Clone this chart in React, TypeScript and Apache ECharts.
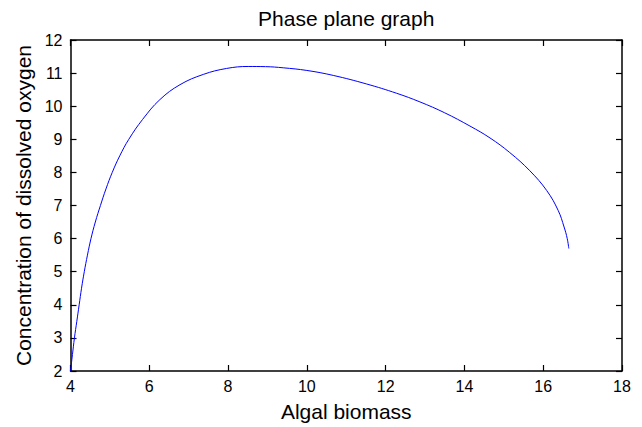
import React, { useEffect, useRef } from "react";
import * as echarts from "echarts";

// Phase-plane trajectory: algal biomass (x) against dissolved oxygen (y)
const biomass = [
  4.0, 4.05, 4.1, 4.16, 4.22, 4.28, 4.35, 4.43, 4.52, 4.63, 4.76, 4.9, 5.06,
  5.25, 5.48, 5.83, 6.27, 6.78, 7.37, 7.96, 8.51, 8.95, 9.4, 10.0, 10.67, 11.52,
  12.28, 12.87, 13.5, 14.14, 14.65, 15.15, 15.66, 16.09, 16.38, 16.53, 16.61,
  16.65,
];
const oxygen = [
  2.0, 2.5, 3.0, 3.5, 4.0, 4.5, 5.0, 5.5, 6.0, 6.5, 7.0, 7.5, 8.0, 8.5, 9.0,
  9.6, 10.2, 10.65, 10.96, 11.14, 11.2, 11.195, 11.16, 11.08, 10.93, 10.67,
  10.39, 10.13, 9.8, 9.4, 9.04, 8.6, 8.05, 7.45, 6.85, 6.35, 6.0, 5.7,
];

const xRange = { min: 4, max: 18, interval: 2 };
const yRange = { min: 2, max: 12, interval: 1 };

const titleText = "Phase plane graph";
const xName = "Algal biomass";
const yName = "Concentration of dissolved oxygen";

const FONT = "'Liberation Sans', Arial, Helvetica, sans-serif";
const INK = "#000";

const GRID = { left: 70.5, right: 20, top: 40, bottom: 53.5 };
const WIDTH = 642;
const HEIGHT = 427;

export default function App() {
  const ref = useRef<HTMLDivElement>(null);

  useEffect(() => {
    if (!ref.current) return;
    const chart = echarts.init(ref.current, undefined, { renderer: "svg" });

    const axisLine = { show: true, lineStyle: { color: INK, width: 1.5 } };
    const tick = { show: true, inside: true, length: 6, lineStyle: { color: INK, width: 1.2 } };
    const label = { color: INK, fontSize: 16, fontFamily: FONT };
    const plotCenterX = GRID.left + (WIDTH - GRID.left - GRID.right) / 2;

    chart.setOption({
      animation: false,
      backgroundColor: "#fff",
      // title centred over the plotting area rather than the whole canvas
      graphic: [
        {
          type: "text",
          x: plotCenterX,
          y: 8,
          style: {
            text: titleText,
            fill: INK,
            font: `21px ${FONT}`,
            align: "center",
            verticalAlign: "top",
          },
        },
      ],
      grid: { ...GRID, containLabel: false },
      xAxis: [
        {
          type: "value",
          ...xRange,
          position: "bottom",
          name: xName,
          nameLocation: "middle",
          nameGap: 30,
          nameTextStyle: { color: INK, fontSize: 21, fontFamily: FONT },
          axisLine,
          axisTick: tick,
          axisLabel: { ...label, margin: 7 },
          splitLine: { show: false },
        },
        {
          type: "value",
          ...xRange,
          position: "top",
          axisLine,
          axisTick: tick,
          axisLabel: { show: false },
          splitLine: { show: false },
        },
      ],
      yAxis: [
        {
          type: "value",
          ...yRange,
          position: "left",
          name: yName,
          nameLocation: "middle",
          nameGap: 36,
          nameRotate: 90,
          nameTextStyle: { color: INK, fontSize: 21, fontFamily: FONT },
          axisLine,
          axisTick: tick,
          axisLabel: { ...label, margin: 8 },
          splitLine: { show: false },
        },
        {
          type: "value",
          ...yRange,
          position: "right",
          axisLine,
          axisTick: tick,
          axisLabel: { show: false },
          splitLine: { show: false },
        },
      ],
      series: [
        {
          type: "line",
          xAxisIndex: 0,
          yAxisIndex: 0,
          data: biomass.map((x, i) => [x, oxygen[i]]),
          showSymbol: false,
          smooth: 0.4,
          lineStyle: { color: "#0000ff", width: 1 },
          clip: false,
        },
      ],
    });

    return () => chart.dispose();
  }, []);

  return (
    <div
      ref={ref}
      style={{ position: "fixed", left: 0, top: 0, width: WIDTH, height: HEIGHT, background: "#fff" }}
    />
  );
}
